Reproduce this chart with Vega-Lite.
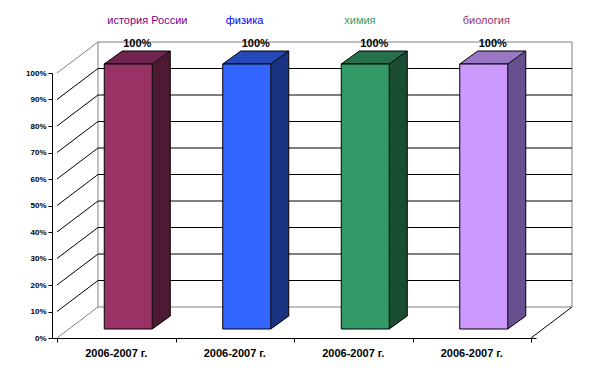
{
  "$schema": "https://vega.github.io/schema/vega-lite/v6.json",
  "width": 484,
  "height": 265,
  "autosize": {"type": "none"},
  "padding": {"left": 52, "top": 73, "right": 64, "bottom": 35},
  "background": "white",
  "config": {
    "view": {"stroke": null},
    "font": "Liberation Sans",
    "axisY": {"format": ".0%", "labelFontSize": 8, "labelFontWeight": "bold", "labelColor": "black", "labelOverlap": false, "labelBound": false, "labelFlush": false, "tickSize": 4, "tickColor": "black", "domain": true, "domainColor": "black", "domainWidth": 1, "grid": false, "labelPadding": 2, "zindex": 1},
    "axisX": {"labels": false, "tickSize": 4, "tickColor": "black", "domain": true, "domainColor": "black", "grid": false, "zindex": 1}
  },
  "datasets": {
    "bars": [
      {"n": 1, "subject": "история России", "period": "2006-2007 г.", "share": 1},
      {"n": 2, "subject": "физика", "period": "2006-2007 г.", "share": 1},
      {"n": 3, "subject": "химия", "period": "2006-2007 г.", "share": 1},
      {"n": 4, "subject": "биология", "period": "2006-2007 г.", "share": 1}
    ],
    "grid": [{"v": 0.1}, {"v": 0.2}, {"v": 0.3}, {"v": 0.4}, {"v": 0.5}, {"v": 0.6}, {"v": 0.7}, {"v": 0.8}, {"v": 0.9}],
    "edge": [{"v": 0}, {"v": 1}],
    "one": [{}]
  },
  "resolve": {"scale": {"color": "independent"}},
  "layer": [
    {
      "data": {"name": "one"},
      "mark": {"type": "rect", "fill": "white", "stroke": "#808080", "strokeWidth": 1, "xOffset": 41, "x2Offset": 41, "yOffset": -31, "y2Offset": -31},
      "encoding": {
        "x": {"datum": 0.5, "type": "quantitative", "scale": {"domain": [0.5, 4.5], "nice": false, "zero": false}, "axis": {"values": [0.5, 1.5, 2.5, 3.5, 4.5], "labels": false, "title": null}},
        "x2": {"datum": 4.5},
        "y": {"datum": 0, "type": "quantitative", "scale": {"domain": [0, 1], "nice": false, "zero": false}, "axis": {"values": [0, 0.1, 0.2, 0.3, 0.4, 0.5, 0.6, 0.7, 0.8, 0.9, 1], "format": ".0%", "labelOverlap": false, "title": null}},
        "y2": {"datum": 1}
      }
    },
    {
      "data": {"name": "grid"},
      "mark": {"type": "rule", "color": "black", "strokeWidth": 1, "xOffset": 41, "x2Offset": 41, "yOffset": -31},
      "encoding": {
        "x": {"datum": 0.5, "type": "quantitative", "axis": {"values": [0.5, 1.5, 2.5, 3.5, 4.5], "labels": false, "title": null}},
        "x2": {"datum": 4.5},
        "y": {"field": "v", "type": "quantitative", "axis": {"values": [0, 0.1, 0.2, 0.3, 0.4, 0.5, 0.6, 0.7, 0.8, 0.9, 1], "format": ".0%", "labelOverlap": false, "title": null}}
      }
    },
    {
      "data": {"name": "grid"},
      "mark": {"type": "rule", "color": "black", "strokeWidth": 1, "x2Offset": 41, "y2Offset": -31},
      "encoding": {
        "x": {"datum": 0.5, "type": "quantitative", "axis": {"values": [0.5, 1.5, 2.5, 3.5, 4.5], "labels": false, "title": null}},
        "x2": {"datum": 0.5},
        "y": {"field": "v", "type": "quantitative", "axis": {"values": [0, 0.1, 0.2, 0.3, 0.4, 0.5, 0.6, 0.7, 0.8, 0.9, 1], "format": ".0%", "labelOverlap": false, "title": null}},
        "y2": {"field": "v"}
      }
    },
    {
      "data": {"name": "edge"},
      "mark": {"type": "rule", "color": "#808080", "strokeWidth": 1, "x2Offset": 41, "y2Offset": -31},
      "encoding": {
        "x": {"datum": 0.5, "type": "quantitative", "axis": {"values": [0.5, 1.5, 2.5, 3.5, 4.5], "labels": false, "title": null}},
        "x2": {"datum": 0.5},
        "y": {"field": "v", "type": "quantitative", "axis": {"values": [0, 0.1, 0.2, 0.3, 0.4, 0.5, 0.6, 0.7, 0.8, 0.9, 1], "format": ".0%", "labelOverlap": false, "title": null}},
        "y2": {"field": "v"}
      }
    },
    {
      "data": {"name": "one"},
      "mark": {"type": "rule", "color": "black", "strokeWidth": 1, "x2Offset": 41, "y2Offset": -31},
      "encoding": {
        "x": {"datum": 4.5, "type": "quantitative", "axis": {"values": [0.5, 1.5, 2.5, 3.5, 4.5], "labels": false, "title": null}},
        "x2": {"datum": 4.5},
        "y": {"datum": 0, "type": "quantitative", "axis": {"values": [0, 0.1, 0.2, 0.3, 0.4, 0.5, 0.6, 0.7, 0.8, 0.9, 1], "format": ".0%", "labelOverlap": false, "title": null}},
        "y2": {"datum": 0}
      }
    },
    {
      "data": {"name": "bars"},
      "mark": {"type": "bar", "orient": "vertical", "width": 18, "xOffset": 45, "yOffset": -9, "y2Offset": -22, "strokeWidth": 0},
      "encoding": {
        "x": {"field": "n", "type": "quantitative", "axis": {"values": [0.5, 1.5, 2.5, 3.5, 4.5], "labels": false, "title": null}},
        "y": {"field": "share", "type": "quantitative", "axis": {"values": [0, 0.1, 0.2, 0.3, 0.4, 0.5, 0.6, 0.7, 0.8, 0.9, 1], "format": ".0%", "labelOverlap": false, "title": null}},
        "y2": {"datum": 0},
        "color": {"field": "subject", "type": "nominal", "legend": null,
          "scale": {"domain": ["история России", "физика", "химия", "биология"], "range": ["#4D1A33", "#1A3380", "#1A4D33", "#66508F"]}}
      }
    },
    {
      "data": {"name": "bars"},
      "mark": {"type": "point", "shape": "M36,-9L54,-22L54,-8L36,-8Z", "size": 4, "filled": true, "opacity": 1, "strokeWidth": 0},
      "encoding": {
        "x": {"field": "n", "type": "quantitative", "axis": {"values": [0.5, 1.5, 2.5, 3.5, 4.5], "labels": false, "title": null}},
        "y": {"field": "share", "type": "quantitative", "axis": {"values": [0, 0.1, 0.2, 0.3, 0.4, 0.5, 0.6, 0.7, 0.8, 0.9, 1], "format": ".0%", "labelOverlap": false, "title": null}},
        "color": {"field": "subject", "type": "nominal", "legend": null,
          "scale": {"domain": ["история России", "физика", "химия", "биология"], "range": ["#4D1A33", "#1A3380", "#1A4D33", "#66508F"]}}
      }
    },
    {
      "data": {"name": "bars"},
      "mark": {"type": "point", "shape": "M36,-23L54,-23L54,-22L36,-9Z", "size": 4, "filled": true, "opacity": 1, "strokeWidth": 0},
      "encoding": {
        "x": {"field": "n", "type": "quantitative", "axis": {"values": [0.5, 1.5, 2.5, 3.5, 4.5], "labels": false, "title": null}},
        "y": {"datum": 0, "type": "quantitative", "axis": {"values": [0, 0.1, 0.2, 0.3, 0.4, 0.5, 0.6, 0.7, 0.8, 0.9, 1], "format": ".0%", "labelOverlap": false, "title": null}},
        "color": {"field": "subject", "type": "nominal", "legend": null,
          "scale": {"domain": ["история России", "физика", "химия", "биология"], "range": ["#4D1A33", "#1A3380", "#1A4D33", "#66508F"]}}
      }
    },
    {
      "data": {"name": "bars"},
      "mark": {"type": "rule", "color": "black", "strokeWidth": 1, "xOffset": 54, "yOffset": -22, "y2Offset": -22},
      "encoding": {
        "x": {"field": "n", "type": "quantitative", "axis": {"values": [0.5, 1.5, 2.5, 3.5, 4.5], "labels": false, "title": null}},
        "y": {"field": "share", "type": "quantitative", "axis": {"values": [0, 0.1, 0.2, 0.3, 0.4, 0.5, 0.6, 0.7, 0.8, 0.9, 1], "format": ".0%", "labelOverlap": false, "title": null}},
        "y2": {"datum": 0}
      }
    },
    {
      "data": {"name": "bars"},
      "mark": {"type": "point", "shape": "M36,-9L54,-22", "size": 4, "filled": false, "color": "black", "opacity": 1, "strokeWidth": 1},
      "encoding": {
        "x": {"field": "n", "type": "quantitative", "axis": {"values": [0.5, 1.5, 2.5, 3.5, 4.5], "labels": false, "title": null}},
        "y": {"datum": 0, "type": "quantitative", "axis": {"values": [0, 0.1, 0.2, 0.3, 0.4, 0.5, 0.6, 0.7, 0.8, 0.9, 1], "format": ".0%", "labelOverlap": false, "title": null}}
      }
    },
    {
      "data": {"name": "bars"},
      "mark": {"type": "point", "shape": "M-12,-9L36,-9L54,-22L6,-22Z", "size": 4, "filled": true, "opacity": 1, "stroke": "black", "strokeWidth": 1},
      "encoding": {
        "x": {"field": "n", "type": "quantitative", "axis": {"values": [0.5, 1.5, 2.5, 3.5, 4.5], "labels": false, "title": null}},
        "y": {"field": "share", "type": "quantitative", "axis": {"values": [0, 0.1, 0.2, 0.3, 0.4, 0.5, 0.6, 0.7, 0.8, 0.9, 1], "format": ".0%", "labelOverlap": false, "title": null}},
        "color": {"field": "subject", "type": "nominal", "legend": null,
          "scale": {"domain": ["история России", "физика", "химия", "биология"], "range": ["#702550", "#254AB8", "#25704A", "#9878C4"]}}
      }
    },
    {
      "data": {"name": "bars"},
      "mark": {"type": "bar", "orient": "vertical", "width": 48, "xOffset": 12, "yOffset": -9, "y2Offset": -9, "stroke": "black", "strokeWidth": 1},
      "encoding": {
        "x": {"field": "n", "type": "quantitative", "axis": {"values": [0.5, 1.5, 2.5, 3.5, 4.5], "labels": false, "title": null}},
        "y": {"field": "share", "type": "quantitative", "axis": {"values": [0, 0.1, 0.2, 0.3, 0.4, 0.5, 0.6, 0.7, 0.8, 0.9, 1], "format": ".0%", "labelOverlap": false, "title": null}},
        "y2": {"datum": 0},
        "color": {"field": "subject", "type": "nominal", "legend": null,
          "scale": {"domain": ["история России", "физика", "химия", "биология"], "range": ["#993366", "#3366FF", "#339966", "#CC99FF"]}}
      }
    },
    {
      "data": {"name": "bars"},
      "mark": {"type": "text", "fontSize": 11, "fontWeight": "bold", "color": "black", "dx": 21, "dy": -29, "align": "center", "baseline": "middle"},
      "encoding": {
        "x": {"field": "n", "type": "quantitative", "axis": {"values": [0.5, 1.5, 2.5, 3.5, 4.5], "labels": false, "title": null}},
        "y": {"field": "share", "type": "quantitative", "axis": {"values": [0, 0.1, 0.2, 0.3, 0.4, 0.5, 0.6, 0.7, 0.8, 0.9, 1], "format": ".0%", "labelOverlap": false, "title": null}},
        "text": {"field": "share", "type": "quantitative", "format": ".0%"}
      }
    },
    {
      "data": {"name": "bars"},
      "mark": {"type": "text", "fontSize": 11, "dx": -9, "dy": -52, "align": "left", "baseline": "middle"},
      "encoding": {
        "x": {"field": "n", "type": "quantitative", "axis": {"values": [0.5, 1.5, 2.5, 3.5, 4.5], "labels": false, "title": null}},
        "y": {"datum": 1, "type": "quantitative", "axis": {"values": [0, 0.1, 0.2, 0.3, 0.4, 0.5, 0.6, 0.7, 0.8, 0.9, 1], "format": ".0%", "labelOverlap": false, "title": null}},
        "text": {"field": "subject", "type": "nominal"},
        "color": {"field": "subject", "type": "nominal", "legend": null,
          "scale": {"domain": ["история России", "физика", "химия", "биология"], "range": ["#800080", "#0000FF", "#339966", "#993366"]}}
      }
    },
    {
      "data": {"name": "bars"},
      "mark": {"type": "text", "fontSize": 11, "fontWeight": "bold", "color": "black", "dy": 16, "align": "center", "baseline": "middle"},
      "encoding": {
        "x": {"field": "n", "type": "quantitative", "axis": {"values": [0.5, 1.5, 2.5, 3.5, 4.5], "labels": false, "title": null}},
        "y": {"datum": 0, "type": "quantitative", "axis": {"values": [0, 0.1, 0.2, 0.3, 0.4, 0.5, 0.6, 0.7, 0.8, 0.9, 1], "format": ".0%", "labelOverlap": false, "title": null}},
        "text": {"field": "period", "type": "nominal"}
      }
    }
  ]
}
